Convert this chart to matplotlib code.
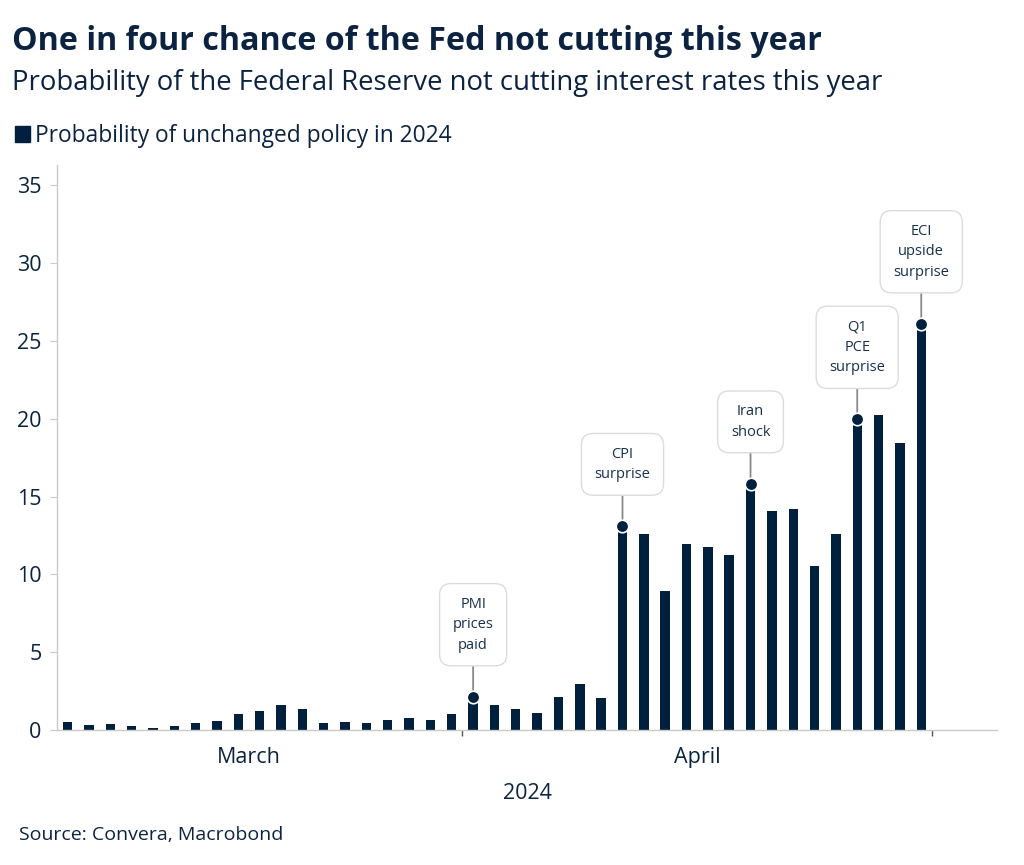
import matplotlib
matplotlib.use("Agg")
import matplotlib.pyplot as plt
import numpy as np

# ---- data ----
values = [0.53, 0.32, 0.36, 0.24, 0.15, 0.24, 0.43, 0.60, 1.00, 1.24,
          1.58, 1.35, 0.47, 0.53, 0.43, 0.62, 0.75, 0.62, 1.05,
          2.14, 1.58, 1.33, 1.07, 2.12, 2.97, 2.05, 13.1, 12.59, 8.91, 11.92,
          11.75, 11.22, 15.83, 14.04, 14.17, 10.51, 12.59, 19.96, 20.26, 18.42, 26.1]
month_labels = ["March", "April"]
month_label_pos = [8.5, 29.5]
month_bounds = [18.5, 40.5]
event_idx = [19, 26, 32, 37, 40]
event_text = ["PMI\nprices\npaid", "CPI\nsurprise", "Iran\nshock",
              "Q1\nPCE\nsurprise", "ECI\nupside\nsurprise"]
yticks = [0, 5, 10, 15, 20, 25, 30, 35]
series_name = "Probability of unchanged policy in 2024"

NAVY = "#00203d"
TEXT = "#0b2341"
GREY = "#c9c9c9"
FONT = ["Open Sans", "DejaVu Sans"]
plt.rcParams["font.family"] = FONT

fig = plt.figure(figsize=(10.24, 8.65), dpi=100)
ax = fig.add_axes([57/1024, 1-730/865, (997-57)/1024, (730-165)/865])

x = np.arange(len(values))
ax.bar(x, values, width=0.44, color=NAVY, zorder=2)

ax.set_xlim(-0.5, 43.55)
ax.set_ylim(0, 36.3)

for s in ["top", "right"]:
    ax.spines[s].set_visible(False)
ax.spines["left"].set_color(GREY)
ax.spines["bottom"].set_color(GREY)
ax.spines["left"].set_linewidth(1.0)
ax.spines["bottom"].set_linewidth(1.0)

ax.set_yticks(yticks)
ax.set_yticklabels([str(v) for v in yticks])
ax.tick_params(axis="y", length=5, color=GREY, labelsize=15.5, labelcolor=TEXT, pad=6)

ax.set_xticks(month_label_pos)
ax.set_xticklabels(month_labels)
ax.tick_params(axis="x", which="major", length=0, labelsize=15.5, labelcolor=TEXT, pad=12)
ax.set_xticks(month_bounds, minor=True)
ax.tick_params(axis="x", which="minor", length=4, color="#555555", width=1)
ax.set_xlabel("2024", fontsize=15.5, color=TEXT, labelpad=11)

# events
for i, t in zip(event_idx, event_text):
    ax.plot(x[i], values[i], "o", ms=9, mfc=NAVY, mec="white", mew=1.2, zorder=5)
    ax.annotate(t, xy=(x[i], values[i]), xytext=(0, 44), textcoords="offset pixels",
                ha="center", va="bottom", fontsize=10.5, color="#16304d",
                linespacing=1.5,
                bbox=dict(boxstyle="round,pad=0.9,rounding_size=0.8", fc="white",
                          ec="#dcdcdc", lw=1.0),
                arrowprops=dict(arrowstyle="-", color="#8a8a8a", lw=1.3,
                                shrinkA=0, shrinkB=4),
                zorder=4)

# titles
fig.text(12/1024, 1-50/865, "One in four chance of the Fed not cutting this year",
         fontsize=23.2, fontweight="bold", color=TEXT, va="baseline", ha="left")
fig.text(12/1024, 1-90/865, "Probability of the Federal Reserve not cutting interest rates this year",
         fontsize=19.8, color=TEXT, va="baseline", ha="left")
fig.patches.append(plt.Rectangle((15/1024, 1-142/865), 15/1024, 16/865,
                                 transform=fig.transFigure, color=NAVY))
fig.text(35/1024, 1-142/865, series_name, fontsize=16.4, color=TEXT,
         va="baseline", ha="left")
fig.text(19/1024, 1-840/865, "Source: Convera, Macrobond", fontsize=14,
         color=TEXT, va="baseline", ha="left")

fig.savefig("out.png", dpi=100, facecolor="white")
